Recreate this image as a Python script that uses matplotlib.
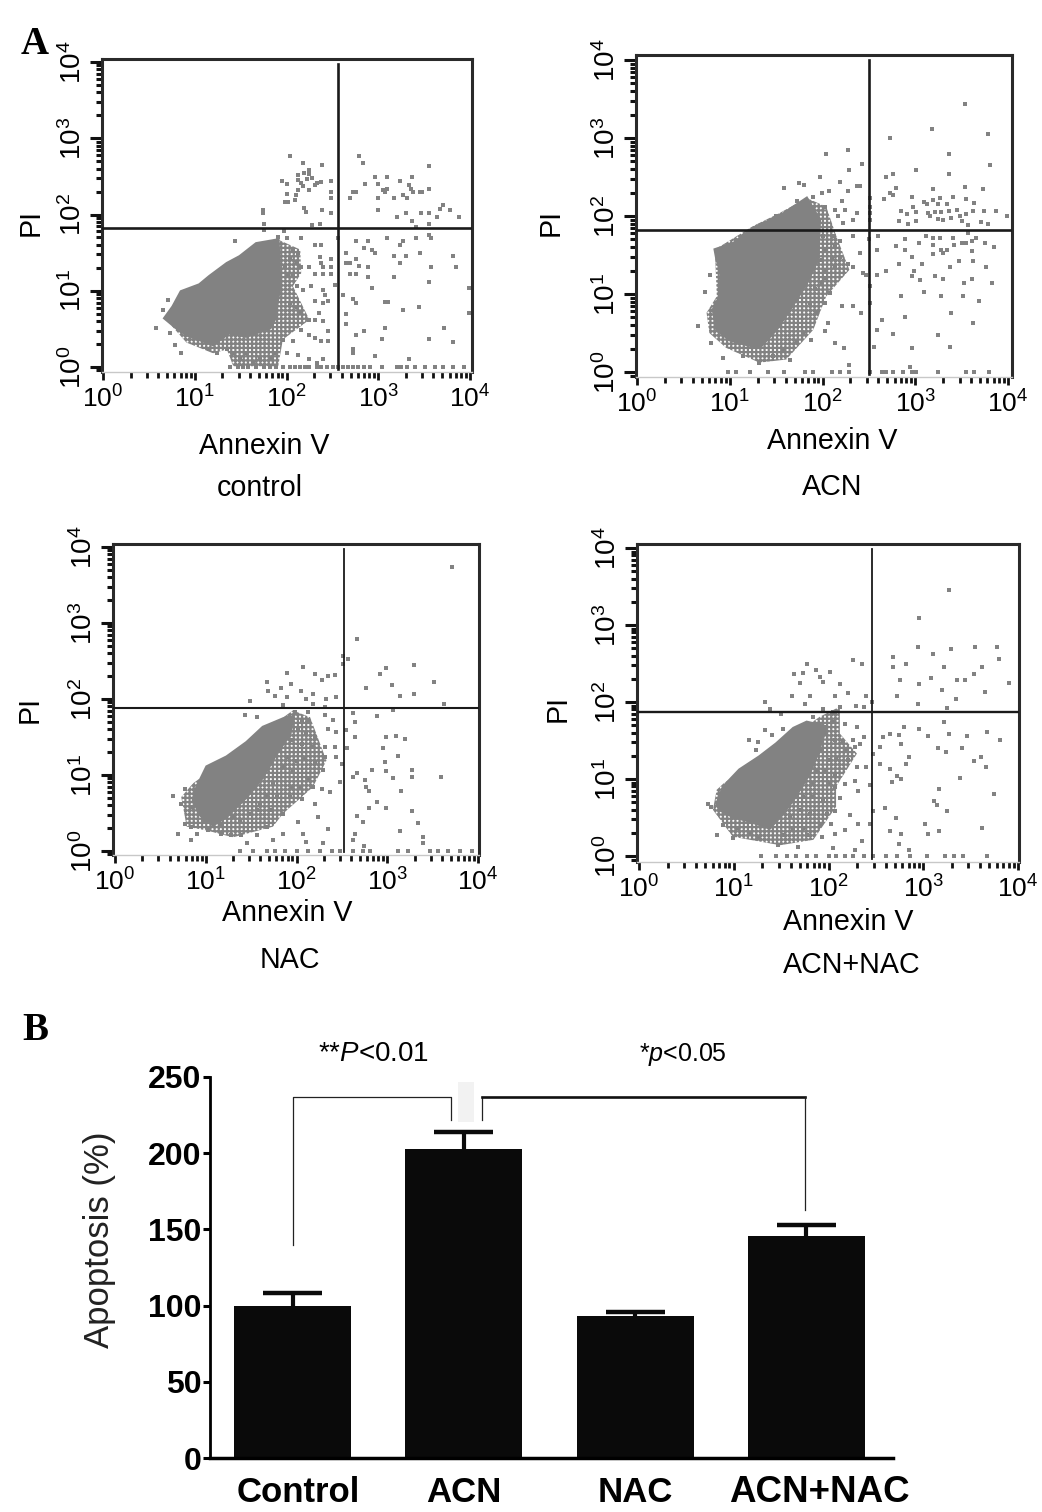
import numpy as np
import matplotlib
matplotlib.use("Agg")
import matplotlib.pyplot as plt
from matplotlib.patches import Rectangle
from matplotlib.ticker import LogLocator, NullFormatter, LogFormatterMathtext

plt.rcParams['font.family'] = ['Liberation Sans', 'DejaVu Sans']
plt.rcParams['mathtext.fontset'] = 'custom'
plt.rcParams['mathtext.rm'] = 'Liberation Sans'
plt.rcParams['mathtext.it'] = 'Liberation Sans:italic'
plt.rcParams['hatch.linewidth'] = 1.6

W, H = 1042, 1512

# flow cytometry values, all in log10 units (decades)
control_cloud = [(0.67,0.64),(0.76,0.79),(0.85,0.99),(1.05,1.08),(1.16,1.19),(1.35,1.36),(1.49,1.45),(1.67,1.62),
                 (1.91,1.67),(1.93,1.06),(1.87,0.62),(1.82,0.51),(1.56,0.40),(1.38,0.45),(1.20,0.29),(1.09,0.34),
                 (0.91,0.42),(0.80,0.51)]
control_fringe = [(1.91,1.67),(2.15,1.54),(2.16,1.23),(2.07,1.06),(2.25,0.62),(1.96,0.36),(1.91,0.01),(1.42,0.01),
                  (1.35,0.23),(1.20,0.18),(0.91,0.32),(0.69,0.62)]
control_pts = [(2.04,2.77),(2.18,2.67),(2.39,2.65),(2.24,2.58),(2.12,2.52),(2.19,2.54),(2.25,2.53),(1.95,2.44),
               (2.01,2.40),(2.12,2.45),(2.16,2.41),(2.22,2.46),(2.28,2.48),(2.33,2.41),(2.38,2.42),(2.49,2.44),
               (2.13,2.32),(2.18,2.37),(2.24,2.32),(2.31,2.39),(2.49,2.30),(2.01,2.27),(2.10,2.25),(1.98,2.16),
               (2.02,2.16),(2.09,2.19),(2.49,2.21),(1.74,2.06),(1.74,2.02),(2.19,2.08),(2.21,2.03),(2.39,2.06),
               (2.49,2.02),(1.76,1.88),(1.76,1.80),(1.97,1.79),(2.28,1.86),(2.36,1.88),
               (2.79,2.77),(2.83,2.67),(3.55,2.63),(2.96,2.49),(3.10,2.49),(3.37,2.49),(3.24,2.44),(2.86,2.40),
               (3.00,2.40),(3.34,2.39),(3.36,2.34),(3.55,2.34),(2.73,2.30),(2.76,2.30),(3.05,2.32),(3.10,2.34),
               (3.07,2.30),(3.38,2.30),(3.45,2.30),(3.48,2.30),(2.69,2.21),(3.00,2.21),(3.17,2.21),(3.27,2.26),
               (3.31,2.21),(3.71,2.12),(3.67,2.07),(3.78,2.06),(3.00,2.06),(3.20,1.97),(3.30,2.02),(3.47,2.02),
               (3.55,2.02),(3.64,1.97),(3.88,1.97),(3.37,1.92),(3.55,1.88),(3.41,1.84),
               (2.56,1.69),(2.76,1.65),(2.89,1.65),(3.10,1.69),(3.27,1.65),(3.24,1.60),(3.41,1.69),(3.55,1.73),
               (3.58,1.69),(2.85,1.56),(2.93,1.54),(2.96,1.49),(2.65,1.50),(3.45,1.50),(3.17,1.45),(3.30,1.45),
               (3.81,1.45),(2.65,1.36),(2.69,1.36),(2.76,1.41),(2.79,1.32),(2.89,1.31),(3.24,1.36),(3.58,1.31),
               (3.85,1.31),(2.69,1.22),(2.76,1.22),(2.89,1.18),(3.17,1.18),(3.55,1.12),(2.93,1.03),(3.99,1.03),
               (2.62,0.94),(2.73,0.89),(2.76,0.84),(3.07,0.85),(3.11,0.85),(3.44,0.79),(3.27,0.75),(2.65,0.70),
               (3.99,0.71),(2.65,0.57),(3.72,0.51),(3.07,0.51),(2.84,0.47),(2.76,0.42),(3.04,0.37),(3.55,0.37),
               (3.82,0.33),(2.73,0.23),(2.73,0.18),(2.96,0.14),(3.34,0.10),
               (2.31,1.60),(2.38,1.60),(2.16,1.69),(2.36,1.44),(2.38,1.36),(2.49,1.41),(2.16,1.31),(2.25,1.31),
               (2.40,1.31),(2.49,1.31),(2.31,1.22),(2.40,1.22),(2.49,1.22),(2.07,1.54),(2.13,1.49),(2.04,1.41),
               (2.11,1.36),(1.98,1.32),(2.00,1.19),(2.07,1.19),(2.11,1.06),(2.18,1.01),(2.27,1.06),(2.40,1.01),
               (2.42,0.95),(2.53,1.08),(2.31,0.86),(2.40,0.84),(2.45,0.86),(2.04,0.84),(2.11,0.79),(2.16,0.71),
               (2.35,0.71),(2.24,0.62),(2.31,0.62),(2.40,0.60),(2.16,0.49),(2.25,0.42),(2.45,0.47),(2.31,0.38),
               (2.38,0.34),(2.07,0.34),(2.45,0.34),(1.96,0.36),(2.00,0.18),(2.13,0.16),(2.24,0.10),(2.33,0.05),
               (2.40,0.10),(1.89,0.18),(1.82,0.10),(1.71,0.10),(1.64,0.05),(1.56,0.18),(1.49,0.10),(1.42,0.18),
               (1.35,0.23),(1.24,0.18),(1.16,0.23),(0.85,0.18),(0.78,0.29),(0.58,0.51),(0.73,0.45),(0.65,0.75),
               (0.71,0.88),(1.44,1.65),(1.91,1.71),(2.00,1.69)]
control_floor = [1.38,1.47,1.53,1.58,1.67,1.75,1.82,1.89,1.96,2.04,2.09,2.15,2.20,2.25,2.33,2.38,2.44,2.51,2.56,
                 2.62,2.67,2.73,2.78,2.84,2.91,3.04,3.20,3.25,3.31,3.40,3.51,3.62,3.71,3.82,3.93]
control_gate = (2.56, 1.82)

acn_cloud = [(0.84,1.57),(1.04,1.65),(1.22,1.82),(1.29,1.87),(1.54,2.00),(1.83,2.23),(1.97,1.95),(1.95,1.44),
             (1.83,1.14),(1.65,0.80),(1.50,0.54),(1.32,0.31),(1.18,0.35),(1.00,0.41),(0.86,0.54),(0.82,0.80),
             (0.89,0.97),(0.91,1.27),(0.86,1.44)]
acn_fringe = [(1.83,2.23),(2.04,2.12),(2.15,1.74),(2.29,1.31),(2.04,0.97),(1.90,0.54),(1.61,0.16),(1.32,0.12),
              (0.96,0.31),(0.78,0.50),(0.75,0.76),(0.86,0.97),(0.84,1.57),(1.25,1.87),(1.54,2.04)]
acn_pts = [(2.27,2.85),(2.04,2.80),(2.43,2.67),(2.29,2.59),(1.97,2.50),(2.73,3.00),(3.18,3.12),(3.54,3.44),
           (3.78,3.05),(3.36,2.79),(3.81,2.65),(3.01,2.59),(2.76,2.54),(2.69,2.50),(3.36,2.54),(2.79,2.36),
           (3.19,2.35),(3.54,2.37),(3.73,2.35),(2.73,2.30),(2.76,2.27),(2.66,2.22),(2.97,2.25),
           (3.09,2.18),(3.19,2.21),(3.27,2.23),(3.41,2.24),(3.55,2.22),(3.63,2.17),(2.98,2.12),(3.13,2.15),
           (3.25,2.15),(3.34,2.16),(3.45,2.08),(2.85,2.07),(3.01,2.05),(3.14,2.04),(3.21,2.05),(3.28,2.05),
           (3.36,2.06),(3.62,2.07),(3.74,2.07),(3.87,2.06),(3.99,2.00),(2.91,2.02),(2.82,1.93),(2.92,1.90),
           (3.01,1.93),(3.16,2.00),(3.25,1.96),(3.30,1.95),(3.39,1.97),(3.48,2.00),(3.55,2.02),(3.50,1.93),
           (3.57,1.89),(3.71,1.92),(3.78,1.90),(3.12,1.75),(3.19,1.72),(3.27,1.72),(3.41,1.72),(2.89,1.70),
           (3.04,1.66),(3.57,1.78),(3.65,1.72),(3.61,1.68),(2.79,1.61),(2.89,1.57),(3.19,1.63),(3.28,1.57),
           (3.34,1.57),(3.42,1.63),(3.50,1.65),(3.55,1.66),(3.75,1.65),(3.85,1.60),(3.61,1.55),(2.96,1.47),
           (3.19,1.51),(3.30,1.53),(3.07,1.39),(2.83,1.38),(3.37,1.35),(3.47,1.42),(3.62,1.42),(3.76,1.35),
           (2.99,1.29),(2.69,1.29),(2.59,1.25),(2.97,1.23),(3.05,1.18),(3.21,1.23),(3.30,1.19),(3.61,1.19),
           (3.53,1.14),(3.83,1.14),(3.09,1.03),(2.85,0.97),(3.28,0.97),(3.51,0.97),(3.69,0.91),(3.39,0.76),
           (2.89,0.71),(2.64,0.67),(3.62,0.63),(2.59,0.54),(2.76,0.49),(3.25,0.48),(2.56,0.32),(2.97,0.31),
           (3.37,0.32),
           (2.51,2.23),(2.51,2.12),(2.51,2.04),(2.51,1.95),(2.60,1.74),(2.50,1.70),(2.59,1.56),(2.47,1.25),
           (2.44,1.27),(2.51,1.10),(2.51,0.88),
           (1.58,2.36),(1.75,2.42),(1.80,2.40),(2.19,2.44),(2.37,2.39),(2.40,2.39),(1.99,2.29),(2.07,2.32),
           (2.28,2.32),(2.13,2.08),(2.21,2.19),(2.24,2.08),(2.17,2.00),(2.37,2.04),(2.33,1.95),(2.22,1.91),
           (2.03,2.12),(1.90,2.25),(1.72,2.19),(1.50,2.00),
           (2.01,1.74),(2.12,1.74),(2.19,1.68),(2.33,1.74),(2.04,1.57),(2.13,1.61),(1.99,1.44),(2.10,1.46),
           (2.19,1.48),(2.28,1.38),(2.33,1.35),(2.40,1.53),(2.03,1.31),(2.13,1.35),(1.99,1.14),(2.04,1.21),
           (1.92,1.06),(2.08,1.01),(2.03,0.88),(2.21,0.85),(2.33,0.84),(2.42,0.76),(1.86,0.88),(1.94,0.76),
           (2.06,0.63),(2.03,0.52),(1.88,0.41),(2.13,0.37),(2.23,0.31),(1.79,0.50),(1.72,0.39),(1.58,0.29),
           (1.65,0.16),(1.47,0.20),(1.32,0.12),(1.14,0.20),(0.93,0.18),(0.80,0.37),(0.66,0.59),(0.73,1.03),
           (0.79,1.25),(2.29,0.09),(2.94,0.07)]
acn_floor = [0.98,1.07,1.22,1.41,1.59,1.81,1.90,2.10,2.19,2.29,2.51,2.64,2.69,2.76,2.87,2.96,3.01,3.25,3.55,3.63,3.79]
acn_gate = (2.50, 1.82)

nac_cloud = [(0.90,0.84),(1.01,1.11),(1.23,1.24),(1.45,1.43),(1.63,1.63),(1.89,1.76),(1.96,1.76),(1.93,1.54),
             (1.78,1.28),(1.63,0.97),(1.45,0.71),(1.23,0.45),(1.08,0.34),(0.94,0.47),(0.86,0.67)]
nac_fringe = [(1.96,1.85),(2.15,1.76),(2.33,1.19),(2.18,0.84),(1.85,0.49),(1.74,0.32),(1.30,0.18),(1.01,0.27),
              (0.79,0.32),(0.73,0.71),(0.86,0.89)]
nac_pts = [(3.71,3.74),(2.67,2.79),(2.51,2.56),(2.57,2.52),(2.51,2.46),(2.99,2.41),(3.29,2.45),(2.92,2.33),
           (3.52,2.22),(3.05,2.18),(2.77,2.15),(3.29,2.07),(3.14,2.04),(3.63,1.93),(3.06,1.86),(2.89,1.77),
           (2.64,1.70),(2.62,1.81),(2.55,1.59),(2.64,1.50),(2.99,1.50),(3.10,1.51),(3.20,1.48),(2.95,1.36),
           (3.12,1.25),(2.56,1.35),(2.97,1.17),(2.50,1.15),(2.83,1.06),(2.99,1.05),(3.27,1.06),(2.67,1.02),
           (2.62,0.97),(3.06,0.96),(3.27,0.97),(3.59,0.98),(2.75,0.94),(2.77,0.84),(2.80,0.79),(3.15,0.79),
           (2.89,0.64),(2.99,0.57),(2.80,0.57),(3.27,0.53),(2.67,0.46),(2.73,0.38),(3.34,0.37),(3.14,0.26),
           (2.64,0.23),(3.39,0.18),(3.39,0.11),(2.62,0.15),(2.74,0.07),
           (2.07,2.42),(2.20,2.33),(1.89,2.34),(2.35,2.30),(2.42,2.32),(2.28,2.25),(1.68,2.22),(1.94,2.20),
           (1.83,2.14),(1.69,2.11),(2.05,2.11),(1.76,2.04),(2.18,2.07),(2.44,2.03),(2.33,2.00),(1.49,1.97),
           (1.89,2.03),(2.11,2.00),(1.85,1.92),(2.18,1.94),(2.31,1.90),(1.43,1.79),(1.56,1.76),(1.98,1.83),
           (2.13,1.83),
           (2.06,1.72),(2.13,1.72),(2.31,1.79),(2.40,1.72),(2.02,1.59),(2.11,1.54),(2.20,1.50),(2.35,1.61),
           (2.44,1.57),(1.94,1.46),(2.06,1.41),(2.17,1.37),(2.31,1.37),(2.42,1.37),(1.89,1.24),(2.00,1.19),
           (2.09,1.21),(2.20,1.17),(2.31,1.24),(2.44,1.24),(1.85,1.11),(1.96,1.06),(2.13,0.95),(2.29,1.06),
           (2.48,0.91),(1.94,0.84),(2.04,0.84),(2.18,0.84),(2.28,0.82),(2.37,0.78),(1.74,0.89),(1.67,0.73),
           (1.78,0.71),(1.93,0.71),(2.06,0.69),(2.20,0.62),(1.60,0.62),(1.71,0.54),(1.85,0.49),(2.02,0.38),
           (2.24,0.45),(2.35,0.29),(1.49,0.49),(1.38,0.40),(1.67,0.32),(1.85,0.23),(2.07,0.23),(1.28,0.21),
           (1.39,0.21),(1.56,0.21),(1.74,0.14),(2.11,0.12),(2.29,0.10),(1.45,0.10),(1.17,0.23),(1.03,0.27),
           (0.90,0.23),(0.84,0.15),(0.69,0.23),(0.77,0.36),(0.84,0.32),(0.73,0.62),(0.64,0.72),(0.77,0.82),
           (0.84,0.58),(0.97,0.40),(1.16,0.34),(1.30,0.45),(1.56,0.54)]
nac_floor = [1.38,1.52,1.67,1.76,1.87,2.00,2.13,2.26,2.39,2.48,2.62,2.73,2.81,3.12,3.23,3.47,3.56,3.67,3.80,3.93]
nac_gate = (2.52, 1.88)

both_cloud = [(0.82,0.68),(0.89,0.90),(1.06,1.12),(1.27,1.29),(1.45,1.46),(1.63,1.66),(1.77,1.74),(1.98,1.68),
              (1.91,1.42),(1.80,1.07),(1.63,0.73),(1.49,0.51),(1.38,0.36),(1.17,0.45),(0.99,0.51),(0.85,0.60)]
both_fringe = [(1.91,1.81),(2.12,1.94),(2.12,1.59),(2.30,1.33),(2.08,0.90),(2.08,0.64),(1.84,0.21),(1.49,0.14),
               (0.99,0.25),(0.78,0.60),(0.82,0.86),(0.89,0.94)]
both_pts = [(3.27,3.46),(2.96,3.09),(2.94,2.71),(3.29,2.69),(3.55,2.72),(3.78,2.71),(3.10,2.62),(2.68,2.58),
            (3.80,2.56),(2.26,2.55),(2.35,2.49),(2.82,2.49),(2.68,2.46),(3.22,2.46),(3.62,2.45),(3.54,2.36),
            (3.08,2.31),(3.36,2.29),(3.44,2.29),(2.75,2.28),(2.95,2.23),(3.90,2.25),(3.20,2.15),(3.65,2.13),
            (2.72,2.08),(3.35,2.04),(2.94,1.98),(3.25,1.92),(3.22,1.74),(2.80,1.67),(2.96,1.65),(3.67,1.61),
            (3.05,1.56),(3.27,1.58),(3.46,1.56),(3.81,1.51),(2.74,1.57),(2.65,1.59),(2.57,1.54),(2.77,1.45),
            (2.54,1.42),(3.16,1.40),(3.24,1.35),(3.41,1.40),(2.85,1.28),(2.82,1.20),(3.54,1.23),(3.61,1.28),
            (3.66,1.15),(2.54,1.20),(2.47,1.33),(2.65,1.13),(2.72,1.04),(2.77,1.00),(3.39,1.01),(2.67,0.96),
            (3.17,0.87),(3.75,0.81),(3.11,0.71),(3.14,0.66),(2.60,0.62),(3.25,0.58),(2.47,0.58),(2.71,0.50),
            (2.44,0.42),(3.02,0.42),(3.62,0.37),(2.65,0.33),(2.77,0.29),(3.05,0.29),(3.17,0.32),(2.74,0.16),
            (2.85,0.08),
            (1.77,2.50),(1.64,2.37),(1.73,2.38),(1.87,2.41),(1.91,2.33),(2.02,2.39),(1.70,2.25),(1.94,2.26),
            (2.12,2.24),(2.21,2.12),(1.61,2.08),(1.81,2.08),(2.07,2.08),(2.40,2.08),(1.33,2.00),(1.75,1.98),
            (2.29,1.95),(2.37,1.94),(2.46,2.00),(1.38,1.91),(1.50,1.84),(1.84,1.81),(1.94,1.91),(2.05,1.87),
            (2.12,1.93),
            (1.33,1.63),(1.52,1.65),(1.40,1.57),(1.16,1.51),(1.26,1.48),(1.24,1.38),(2.05,1.74),(2.17,1.72),
            (2.30,1.68),(1.96,1.59),(2.07,1.51),(2.15,1.48),(2.26,1.51),(2.37,1.55),(1.93,1.38),(2.00,1.25),
            (2.08,1.27),(2.17,1.38),(2.28,1.42),(2.33,1.46),(1.86,1.27),(1.87,1.12),(1.96,1.12),(2.07,1.07),
            (2.21,1.25),(2.30,1.16),(2.40,1.16),(1.84,0.94),(2.00,0.94),(2.07,0.90),(2.17,0.94),(2.28,0.97),
            (2.44,0.92),(1.73,0.77),(1.84,0.77),(1.94,0.73),(2.12,0.75),(2.31,0.84),(1.70,0.60),(1.80,0.55),
            (1.98,0.55),(2.07,0.58),(2.23,0.53),(1.59,0.51),(1.63,0.34),(1.73,0.36),(1.91,0.40),(2.03,0.42),
            (2.31,0.42),(2.17,0.34),(1.52,0.27),(1.77,0.27),(1.93,0.25),(2.07,0.29),(2.35,0.19),(1.47,0.14),
            (1.26,0.23),(1.17,0.29),(1.03,0.36),(0.99,0.23),(0.82,0.27),(0.89,0.40),(0.73,0.67),(0.76,0.64),
            (2.05,0.10),(2.28,0.08),(1.68,0.12)]
both_floor = [1.29,1.45,1.56,1.66,1.77,1.87,2.00,2.08,2.17,2.26,2.37,2.47,2.61,2.72,2.86,3.04,3.23,3.32,3.42,3.67]
both_gate = (2.46, 1.87)

# bar panel
groups = ['Control', 'ACN', 'NAC', 'ACN+NAC']
apoptosis = np.array([100, 203, 93, 145.5])
apoptosis_err = np.array([8, 11, 3, 7.5])
yticks_b = [0, 50, 100, 150, 200, 250]

GREY = '#828282'


def place(left, top, right, bottom):
    return fig.add_axes([left / W, 1 - bottom / H, (right - left) / W, (bottom - top) / H])


def lab(x, y, s, **kw):
    fig.text(x / W, 1 - y / H, s, ha='center', va='center', **kw)


def dotplot(box, dec_x, dec_y, cloud, fringe, pts, floor, gate, gate_lw):
    # box = spines in px, dec_x/dec_y = px of the 10^0 and 10^4 ticks
    left, top, right, bottom = box
    ax = place(left, top, right, bottom)
    ax.set_xscale('log')
    ax.set_yscale('log')
    per_x = (dec_x[1] - dec_x[0]) / 4
    per_y = (dec_y[0] - dec_y[1]) / 4
    ax.set_xlim(10 ** ((left - dec_x[0]) / per_x), 10 ** ((right - dec_x[0]) / per_x))
    ax.set_ylim(10 ** ((dec_y[0] - bottom) / per_y), 10 ** ((dec_y[0] - top) / per_y))

    # mottled fringe round the solid part of the cloud
    fx, fy = np.array(fringe).T
    ax.fill(10 ** fx, 10 ** fy, facecolor='none', edgecolor=GREY, hatch='++++', lw=0, zorder=1)
    cx, cy = np.array(cloud).T
    ax.fill(10 ** cx, 10 ** cy, color=GREY, lw=2, zorder=2)
    px, py = np.array(pts).T
    ax.plot(10 ** px, 10 ** py, 's', color=GREY, ms=2.5, mew=0, zorder=2)
    ax.plot(10 ** np.array(floor), np.ones(len(floor)), 's', color=GREY, ms=2.8, mew=0, zorder=2)

    # quadrant gate
    ax.axvline(10 ** gate[0], ymin=0.01, ymax=0.985, color='#1a1a1a', lw=gate_lw[0], zorder=3)
    ax.axhline(10 ** gate[1], color='#1a1a1a', lw=gate_lw[1], zorder=3)

    for s in ['top', 'left', 'right']:
        ax.spines[s].set_linewidth(2.2)
        ax.spines[s].set_color('#2a2a2a')
    ax.spines['bottom'].set_linewidth(1)
    ax.spines['bottom'].set_color('#c8c8c8')

    for axis in (ax.xaxis, ax.yaxis):
        axis.set_major_locator(LogLocator(base=10, numticks=6))
        axis.set_minor_locator(LogLocator(base=10, subs=range(2, 10), numticks=10))
        axis.set_major_formatter(LogFormatterMathtext())
        axis.set_minor_formatter(NullFormatter())
    ax.tick_params(axis='x', which='major', length=6, width=2, labelsize=19, pad=4, color='#111111')
    ax.tick_params(axis='x', which='minor', length=4.5, width=2, color='#111111')
    ax.tick_params(axis='y', which='major', length=9, width=2.2, labelsize=20, pad=2, color='#111111')
    ax.tick_params(axis='y', which='minor', length=4, width=2.2, color='#111111')
    for t in ax.get_yticklabels():
        t.set_rotation(90)
        t.set_va('center')
    return ax


fig = plt.figure(figsize=(W / 100, H / 100), dpi=100, facecolor='white')

dotplot((102, 59, 472, 372), (103, 470), (367, 62), control_cloud, control_fringe, control_pts, control_floor,
        control_gate, (1.9, 1.9))
dotplot((636, 55, 1012, 377), (637, 1008), (372, 60), acn_cloud, acn_fringe, acn_pts, acn_floor, acn_gate, (1.9, 1.9))
dotplot((113, 544, 479, 855), (115, 478), (851, 547), nac_cloud, nac_fringe, nac_pts, nac_floor, nac_gate, (1.3, 1.5))
dotplot((637, 544, 1019, 862), (639, 1018), (856, 548), both_cloud, both_fringe, both_pts, both_floor, both_gate,
        (1.3, 1.7))

fs = 20.6
for x, y, s in [(264, 446, 'Annexin V'), (260, 488, 'control'), (832, 441, 'Annexin V'), (832, 487, 'ACN'),
                (287, 913, 'Annexin V'), (290, 960, 'NAC'), (848, 922, 'Annexin V'), (852, 965, 'ACN+NAC')]:
    lab(x, y, s, fontsize=fs)
for x, y in [(31, 222), (551, 222), (30, 710), (558, 708)]:
    lab(x, y, 'PI', fontsize=fs, rotation=90)

lab(35, 45, 'A', fontsize=28, fontweight='bold', family='Liberation Serif')
lab(35, 1030, 'B', fontsize=28, fontweight='bold', family='Liberation Serif')

# bars
ax = place(210, 1077, 893, 1458)
xpos = np.arange(len(groups))
ax.bar(xpos, apoptosis, width=0.683, color='#0a0a0a', zorder=2)
ax.vlines(xpos, apoptosis, apoptosis + apoptosis_err, color='#0a0a0a', lw=3, zorder=2)
ax.hlines(apoptosis + apoptosis_err, xpos - 0.172, xpos + 0.172, color='#0a0a0a', lw=3.2, zorder=2)
ax.set_xlim(-0.482, 3.505)
ax.set_ylim(0, 250)
ax.set_yticks(yticks_b)
ax.set_xticks([])
ax.tick_params(axis='y', length=5, width=2.2, labelsize=23, pad=1)
for t in ax.get_yticklabels():
    t.set_fontweight('bold')
for s in ['top', 'right']:
    ax.spines[s].set_visible(False)
ax.spines['left'].set_linewidth(2)
ax.spines['bottom'].set_linewidth(2.5)

# category names sit a little off the bar centres in the figure
for g, x, size in zip(groups, [298, 464, 635, 819], [25, 25, 25, 26.5]):
    lab(x, 1492, g, fontsize=size, fontweight='bold')

# significance brackets and the pale patch between them
ax.add_patch(Rectangle((0.966, 220.5), 0.094, 26, color='#f2f2f2', lw=0, zorder=1))
ax.plot([0, 0, 0.925, 0.925], [140, 237, 237, 222], color='#222222', lw=0.9, zorder=3)
ax.plot([1.106, 1.106], [222, 237], color='#222222', lw=0.9, zorder=3)
ax.plot([1.106, 2.99], [237, 237], color='#111111', lw=1.9, zorder=3)
ax.plot([2.99, 2.99], [237, 163], color='#222222', lw=0.9, zorder=3)

lab(374, 1054, r'**$\mathit{P}$<0.01', fontsize=20)
lab(683, 1054, r'*$\mathit{p}$<0.05', fontsize=18)
lab(100, 1240, 'Apoptosis (%)', fontsize=25, rotation=90, color='#222222')

fig.savefig('out.png', dpi=100)
